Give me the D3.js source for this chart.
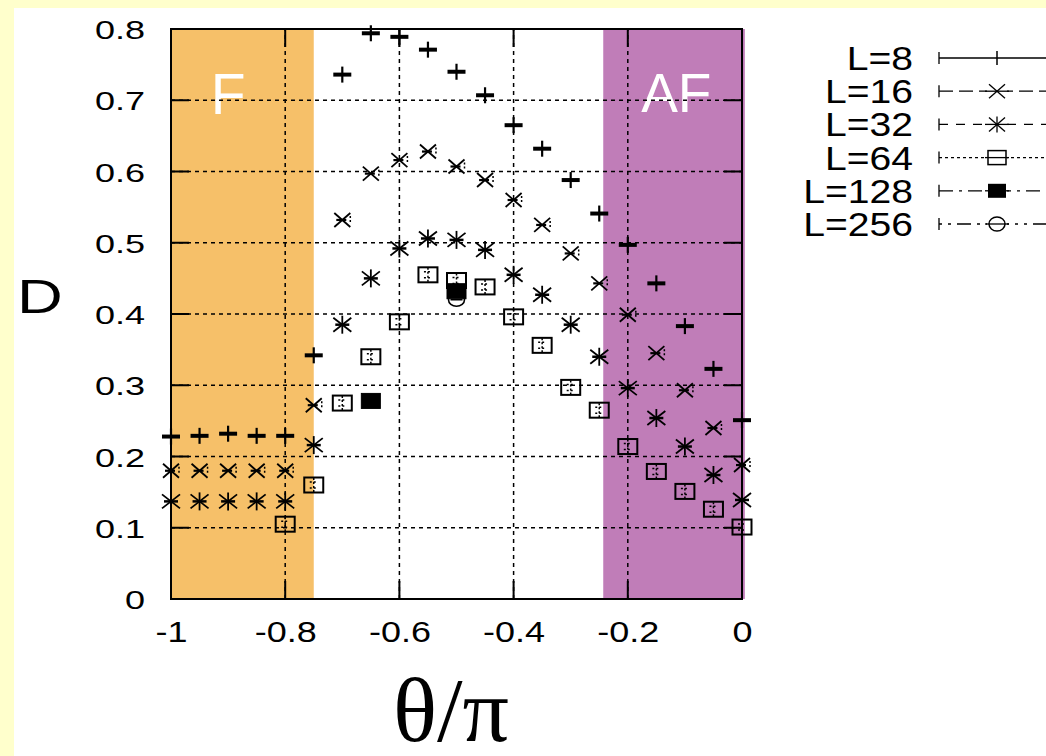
<!DOCTYPE html>
<html>
<head>
<meta charset="utf-8">
<script src="https://cdn.jsdelivr.net/npm/d3@7"></script>
<style>
  html, body { margin: 0; padding: 0; background: #FFFFCC; }
  svg { display: block; }
</style>
</head>
<body>
<svg id="chart" width="1046" height="756"></svg>
<script>
// ---------- data ----------
const thetaAll = [-1, -0.95, -0.9, -0.85, -0.8, -0.75, -0.7, -0.65, -0.6, -0.55, -0.5,
                  -0.45, -0.4, -0.35, -0.3, -0.25, -0.2, -0.15, -0.1, -0.05, 0];
const thetaL64 = [-0.8, -0.75, -0.7, -0.65, -0.6, -0.55, -0.5, -0.45, -0.4, -0.35,
                  -0.3, -0.25, -0.2, -0.15, -0.1, -0.05, 0];
const thetaL128 = [-0.65, -0.5];
const thetaL256 = [-0.5];

const dL8 = [0.228, 0.229, 0.232, 0.229, 0.229, 0.342, 0.736, 0.794, 0.789, 0.771, 0.740,
             0.707, 0.665, 0.632, 0.588, 0.541, 0.497, 0.443, 0.383, 0.323, 0.251];
const dL16 = [0.180, 0.180, 0.180, 0.180, 0.180, 0.272, 0.532, 0.597, 0.616, 0.628, 0.607,
              0.588, 0.560, 0.525, 0.485, 0.443, 0.399, 0.345, 0.293, 0.240, 0.188];
const dL32 = [0.137, 0.137, 0.137, 0.137, 0.137, 0.216, 0.385, 0.450, 0.492, 0.506, 0.504,
              0.490, 0.455, 0.427, 0.385, 0.340, 0.296, 0.254, 0.214, 0.174, 0.139];
const dL64 = [0.105, 0.160, 0.275, 0.340, 0.389, 0.455, 0.447, 0.438, 0.396, 0.356,
              0.297, 0.265, 0.214, 0.179, 0.151, 0.126, 0.101];
const dL128 = [0.278, 0.432];
const dL256 = [0.420];

const seriesNames = ["L=8", "L=16", "L=32", "L=64", "L=128", "L=256"];
const xTicks = [-1, -0.8, -0.6, -0.4, -0.2, 0];
const yTicks = [0, 0.1, 0.2, 0.3, 0.4, 0.5, 0.6, 0.7, 0.8];
const phaseLabels = ["F", "AF"];
const phaseBounds = [[-1, -0.75], [-0.243, 0.005]];

// ---------- setup ----------
const svg = d3.select("#chart");
const x = d3.scaleLinear().domain([-1, 0]).range([171, 742]);
const y = d3.scaleLinear().domain([0, 0.8]).range([599, 29]);

// white page area
svg.append("rect").attr("x", 14).attr("y", 8).attr("width", 1046 - 14).attr("height", 756 - 8)
  .attr("fill", "#ffffff");

// phase bands
const bandColors = ["#F6C069", "#C07DB8"];
phaseBounds.forEach((b, i) => {
  svg.append("rect")
    .attr("x", x(b[0])).attr("y", y(0.8))
    .attr("width", x(b[1]) - x(b[0])).attr("height", y(0) - y(0.8))
    .attr("fill", bandColors[i]);
});

// phase labels
svg.append("text").attr("x", x(-0.9)).attr("y", y(0.681))
  .attr("text-anchor", "middle").attr("fill", "#fff")
  .attr("font-family", "Liberation Sans, Arial, sans-serif").attr("font-size", 57)
  .text(phaseLabels[0]);
svg.append("text").attr("x", x(-0.115)).attr("y", y(0.683))
  .attr("text-anchor", "middle").attr("fill", "#fff")
  .attr("font-family", "Liberation Sans, Arial, sans-serif").attr("font-size", 55)
  .text(phaseLabels[1]);

// grid (dashed)
const grid = svg.append("g").attr("stroke", "#000").attr("stroke-width", 1.5)
  .attr("stroke-dasharray", "4,4");
xTicks.slice(1, -1).forEach(t => {
  grid.append("line").attr("x1", x(t)).attr("x2", x(t)).attr("y1", y(0)).attr("y2", y(0.8));
});
yTicks.slice(1, -1).forEach(t => {
  grid.append("line").attr("x1", x(-1)).attr("x2", x(0)).attr("y1", y(t)).attr("y2", y(t));
});

// tick marks on all sides
const tl = 18;
const ticks = svg.append("g").attr("stroke", "#000").attr("stroke-width", 2);
xTicks.forEach(t => {
  ticks.append("line").attr("x1", x(t)).attr("x2", x(t)).attr("y1", y(0)).attr("y2", y(0) - tl);
  ticks.append("line").attr("x1", x(t)).attr("x2", x(t)).attr("y1", y(0.8)).attr("y2", y(0.8) + tl);
});
yTicks.forEach(t => {
  ticks.append("line").attr("x1", x(-1)).attr("x2", x(-1) + tl).attr("y1", y(t)).attr("y2", y(t));
  ticks.append("line").attr("x1", x(0)).attr("x2", x(0) - tl).attr("y1", y(t)).attr("y2", y(t));
});

// border
svg.append("rect").attr("x", x(-1)).attr("y", y(0.8))
  .attr("width", x(0) - x(-1)).attr("height", y(0) - y(0.8))
  .attr("fill", "none").attr("stroke", "#000").attr("stroke-width", 2);

// axes labels (tick text)
const fmt = d => d === 0 ? "0" : String(d);
const yAxis = svg.append("g").attr("transform", `translate(${x(-1)},0)`)
  .call(d3.axisLeft(y).tickValues(yTicks).tickFormat(fmt).tickSize(0).tickPadding(19));
yAxis.select(".domain").remove();
yAxis.selectAll("text")
  .attr("font-family", "Liberation Sans, Arial, sans-serif").attr("font-size", 26.5)
  .attr("fill", "#000").attr("dy", "0.36em")
  .attr("transform", "scale(1.36,1)");

const xAxis = svg.append("g").attr("transform", `translate(0,${y(0)})`)
  .call(d3.axisBottom(x).tickValues(xTicks).tickFormat(fmt).tickSize(0).tickPadding(22));
xAxis.select(".domain").remove();
xAxis.selectAll("text")
  .attr("font-family", "Liberation Sans, Arial, sans-serif").attr("font-size", 29.5)
  .attr("fill", "#000")
  .attr("transform", "scale(1.22,1)");

// axis titles
svg.append("text").attr("transform", "translate(17,313) scale(1.32,1)")
  .attr("font-family", "Liberation Sans, Arial, sans-serif").attr("font-size", 48)
  .attr("fill", "#000").text("D");
svg.append("text").attr("x", 451).attr("y", 741).attr("text-anchor", "middle")
  .attr("font-family", "Liberation Serif, Times New Roman, serif").attr("font-size", 92)
  .attr("fill", "#000").text("θ/π");

// ---------- markers ----------
function drawMarker(g, type) {
  g.attr("stroke", "#000").attr("fill", "none");
  if (type === 0) { // plus
    g.append("line").attr("x1", -9).attr("x2", 9).attr("y1", 0).attr("y2", 0).attr("stroke-width", 4);
    g.append("line").attr("x1", 0).attr("x2", 0).attr("y1", -8).attr("y2", 8).attr("stroke-width", 2.2);
  } else if (type === 1) { // cross
    g.append("line").attr("x1", -8).attr("x2", 8).attr("y1", -7).attr("y2", 7).attr("stroke-width", 1.8);
    g.append("line").attr("x1", -8).attr("x2", 8).attr("y1", 7).attr("y2", -7).attr("stroke-width", 1.8);
    g.append("line").attr("x1", -6).attr("x2", 4).attr("y1", 0).attr("y2", 0).attr("stroke-width", 2.2);
    g.append("line").attr("x1", 8).attr("x2", 8).attr("y1", -4).attr("y2", 4)
      .attr("stroke-width", 1.5).attr("stroke-dasharray", "2,2");
  } else if (type === 2) { // star
    g.append("line").attr("x1", -9).attr("x2", 9).attr("y1", -7).attr("y2", 7).attr("stroke-width", 1.8);
    g.append("line").attr("x1", -9).attr("x2", 9).attr("y1", 7).attr("y2", -7).attr("stroke-width", 1.8);
    g.append("line").attr("x1", 0).attr("x2", 0).attr("y1", -9).attr("y2", 9).attr("stroke-width", 1.8);
    g.append("line").attr("x1", -7).attr("x2", 7).attr("y1", 0).attr("y2", 0).attr("stroke-width", 2.5);
  } else if (type === 3) { // open square
    g.append("rect").attr("x", -9.5).attr("y", -7.5).attr("width", 19).attr("height", 15).attr("stroke-width", 2);
    g.append("line").attr("x1", 0).attr("x2", 0).attr("y1", -7).attr("y2", 7)
      .attr("stroke-width", 1.5).attr("stroke-dasharray", "2,2");
    g.append("line").attr("x1", -4).attr("x2", 4).attr("y1", -3).attr("y2", -3)
      .attr("stroke-width", 1.5).attr("stroke-dasharray", "2,2");
    g.append("line").attr("x1", -4).attr("x2", 4).attr("y1", 3).attr("y2", 3)
      .attr("stroke-width", 1.5).attr("stroke-dasharray", "2,2");
  } else if (type === 4) { // filled square
    g.append("rect").attr("x", -9.5).attr("y", -7.5).attr("width", 19).attr("height", 15)
      .attr("fill", "#000").attr("stroke-width", 1);
  } else { // circle
    g.append("ellipse").attr("rx", 8).attr("ry", 6.5).attr("stroke-width", 1.6).attr("fill", "none");
    g.append("line").attr("x1", -6).attr("x2", 6).attr("y1", 0).attr("y2", 0).attr("stroke-width", 1.5);
  }
}

const seriesData = [
  [thetaAll, dL8], [thetaAll, dL16], [thetaAll, dL32],
  [thetaL64, dL64], [thetaL128, dL128], [thetaL256, dL256]
];
seriesData.forEach((s, si) => {
  const pts = s[0].map((t, i) => ({ t: t, v: s[1][i] }));
  const grp = svg.append("g");
  grp.selectAll("g").data(pts).enter().append("g")
    .attr("transform", d => `translate(${x(d.t)},${y(d.v)})`)
    .each(function () { drawMarker(d3.select(this), si); });
});

// ---------- legend ----------
const dashes = [null, "14,6", "9,8", "3,3", "14,6,3,6", "3,6,3,6,14,6"];
const legend = svg.append("g");
seriesNames.forEach((name, i) => {
  const base = 70 + i * 33.2;
  const ly = base - 12;
  legend.append("text").attr("transform", `translate(913,${base}) scale(1.15,1)`)
    .attr("text-anchor", "end")
    .attr("font-family", "Liberation Sans, Arial, sans-serif").attr("font-size", 34)
    .attr("fill", "#000").text(name);
  legend.append("line").attr("x1", 939).attr("x2", 1046).attr("y1", ly).attr("y2", ly)
    .attr("stroke", "#000").attr("stroke-width", 1.3)
    .attr("stroke-dasharray", dashes[i]);
  legend.append("line").attr("x1", 939).attr("x2", 939).attr("y1", ly - 6).attr("y2", ly + 6)
    .attr("stroke", "#000").attr("stroke-width", 1.3);
  const m = legend.append("g").attr("transform", `translate(997,${ly})`);
  if (i === 0) {
    m.append("line").attr("x1", 0).attr("x2", 0).attr("y1", -7).attr("y2", 7)
      .attr("stroke", "#000").attr("stroke-width", 1.5);
  } else {
    m.append("rect").attr("x", -10).attr("y", -8).attr("width", 20).attr("height", 16).attr("fill", "#fff");
    m.append("line").attr("x1", -12).attr("x2", 12).attr("y1", 0).attr("y2", 0)
      .attr("stroke", "#000").attr("stroke-width", 1.3);
    const mm = m.append("g");
    if (i === 1) {
      mm.attr("stroke", "#000");
      mm.append("line").attr("x1", -8).attr("x2", 8).attr("y1", -7).attr("y2", 7).attr("stroke-width", 1.3);
      mm.append("line").attr("x1", -8).attr("x2", 8).attr("y1", 7).attr("y2", -7).attr("stroke-width", 1.3);
    } else if (i === 2) {
      mm.attr("stroke", "#000");
      mm.append("line").attr("x1", -8).attr("x2", 8).attr("y1", -7).attr("y2", 7).attr("stroke-width", 1.3);
      mm.append("line").attr("x1", -8).attr("x2", 8).attr("y1", 7).attr("y2", -7).attr("stroke-width", 1.3);
      mm.append("line").attr("x1", 0).attr("x2", 0).attr("y1", -8).attr("y2", 8).attr("stroke-width", 1.3);
    } else if (i === 3) {
      mm.append("rect").attr("x", -9).attr("y", -7).attr("width", 18).attr("height", 14)
        .attr("fill", "none").attr("stroke", "#000").attr("stroke-width", 1.5);
    } else if (i === 4) {
      mm.append("rect").attr("x", -9).attr("y", -7).attr("width", 18).attr("height", 14)
        .attr("fill", "#000");
    } else {
      mm.append("ellipse").attr("rx", 8).attr("ry", 7)
        .attr("fill", "none").attr("stroke", "#000").attr("stroke-width", 1.5);
    }
  }
});
</script>
</body>
</html>
